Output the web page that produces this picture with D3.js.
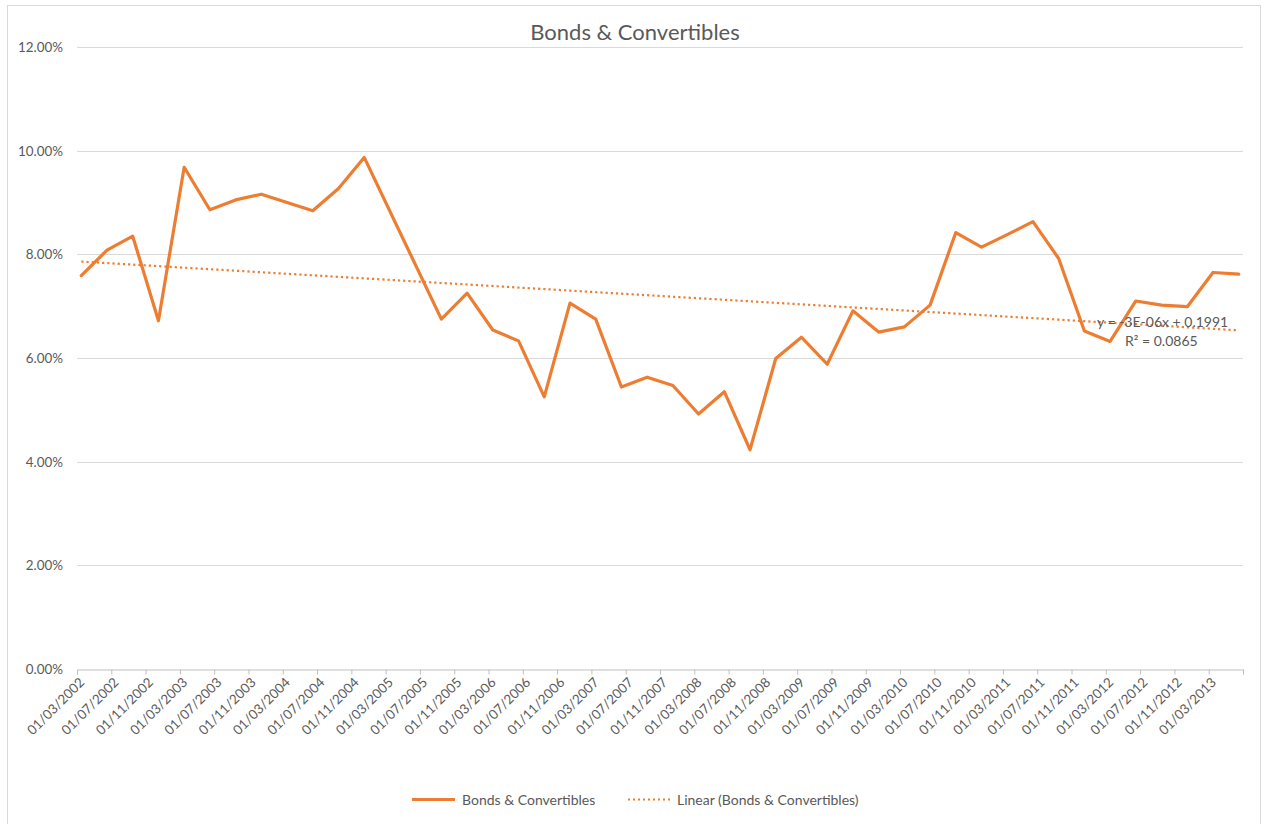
<!DOCTYPE html>
<html lang="en">
<head>
<meta charset="UTF-8">
<title>Bonds & Convertibles</title>
<script src="https://d3js.org/d3.v7.min.js"></script>
<style>
    body { margin: 0; background: #fff; }
    text { font-family: Lato, "Open Sans", sans-serif; fill: #595959; }
</style>
</head>
<body>
<script>
// quarterly observations, starting 01/03/2002 (null = no value, line joins across)
var startYear = 2002, startMonth = 3;
var values = [7.59, 8.08, 8.35, 6.72, 9.68, 8.86, 9.05, 9.16, null, 8.84,
              9.27, 9.87, null, null, 6.75, 7.25, 6.54, 6.33, 5.25, 7.06,
              6.75, 5.44, 5.63, 5.47, 4.92, 5.35, 4.23, 5.99, 6.40, 5.88,
              6.91, 6.50, 6.60, 7.02, 8.42, 8.14, 8.38, 8.63, 7.92, 6.52,
              6.32, 7.10, 7.02, 6.99, 7.65, 7.62];
var yTicks = [0, 2, 4, 6, 8, 10, 12];
var title = "Bonds & Convertibles";
var trendText = ["y = -3E-06x + 0.1991", "R\u00b2 = 0.0865"];

var width = 1262, height = 824;
var orange = "#ED7D31";

var svg = d3.select("body").append("svg")
    .attr("width", width)
    .attr("height", height);

// chart frame
svg.append("rect")
    .attr("x", 7.5).attr("y", 5.5)
    .attr("width", 1253).attr("height", 830)
    .attr("fill", "none")
    .attr("stroke", "#d9d9d9");

// months counted from 01/03/2002, points sit in the middle of their month
var nMonths = 136;
var x = d3.scaleLinear().domain([0, nMonths]).range([77, 1243]);
var y = d3.scaleLinear().domain([0, 12]).range([669, 47]);

var data = values.map(function (v, i) {
    return { m: i * 3, v: v };
}).filter(function (d) { return d.v !== null; });

function monthLabel(m) {
    var total = startMonth - 1 + m;
    var yr = startYear + Math.floor(total / 12);
    var mo = total % 12 + 1;
    return "01/" + (mo < 10 ? "0" + mo : mo) + "/" + yr;
}

// gridlines + y labels
svg.append("g").selectAll("line")
    .data(yTicks.slice(1))
    .enter().append("line")
    .attr("x1", x(0)).attr("x2", x(nMonths))
    .attr("y1", function (d) { return Math.round(y(d)) + 0.5; })
    .attr("y2", function (d) { return Math.round(y(d)) + 0.5; })
    .attr("stroke", "#d9d9d9");

svg.append("g").selectAll("text")
    .data(yTicks)
    .enter().append("text")
    .attr("x", 63)
    .attr("y", function (d) { return y(d) + 5; })
    .attr("text-anchor", "end")
    .style("font-size", "13.4px")
    .text(function (d) { return d.toFixed(2) + "%"; });

// x axis
var tickMonths = d3.range(0, nMonths + 1, 4);
var xAxis = d3.axisBottom(x)
    .tickValues(tickMonths)
    .tickSize(5)
    .tickFormat("");
var gx = svg.append("g")
    .attr("transform", "translate(0," + (Math.round(y(0)) + 0.5) + ")")
    .call(xAxis);
gx.select(".domain").attr("stroke", "#bfbfbf");
gx.selectAll(".tick line").attr("stroke", "#bfbfbf");

svg.append("g").selectAll("text")
    .data(tickMonths.slice(0, -1))
    .enter().append("text")
    .attr("text-anchor", "end")
    .attr("transform", function (d) {
        return "translate(" + (x(d) + 5) + "," + 680 + ") rotate(-45)";
    })
    .attr("dy", "0.35em")
    .style("font-size", "13.4px")
    .text(monthLabel);

// series line
var line = d3.line()
    .x(function (d) { return x(d.m + 0.5); })
    .y(function (d) { return y(d.v); });

svg.append("path")
    .datum(data)
    .attr("d", line)
    .attr("fill", "none")
    .attr("stroke", orange)
    .attr("stroke-width", 3.2)
    .attr("stroke-linejoin", "round")
    .attr("stroke-linecap", "round");

// least squares trend
var mx = d3.mean(data, function (d) { return d.m; });
var my = d3.mean(data, function (d) { return d.v; });
var sxy = d3.sum(data, function (d) { return (d.m - mx) * (d.v - my); });
var sxx = d3.sum(data, function (d) { return (d.m - mx) * (d.m - mx); });
var slope = sxy / sxx, icpt = my - slope * mx;
var ends = [data[0], data[data.length - 1]].map(function (d) {
    return { m: d.m, v: icpt + slope * d.m };
});

svg.append("path")
    .datum(ends)
    .attr("d", line)
    .attr("fill", "none")
    .attr("stroke", orange)
    .attr("stroke-width", 2.2)
    .attr("stroke-dasharray", "2.2,3");

svg.append("g").selectAll("text")
    .data(trendText)
    .enter().append("text")
    .attr("x", function (d, i) { return i === 0 ? 1097 : 1125; })
    .attr("y", function (d, i) { return 327 + i * 18.5; })
    .style("font-size", "14px")
    .text(function (d) { return d; });

// title
svg.append("text")
    .attr("x", 635)
    .attr("y", 40)
    .attr("text-anchor", "middle")
    .style("font-size", "22px")
    .text(title);

// legend
var legend = svg.append("g");
legend.append("line")
    .attr("x1", 412).attr("x2", 455)
    .attr("y1", 799.5).attr("y2", 799.5)
    .attr("stroke", orange).attr("stroke-width", 3);
legend.append("text")
    .attr("x", 462).attr("y", 804.5)
    .style("font-size", "14px")
    .text(title);
legend.append("line")
    .attr("x1", 628).attr("x2", 671)
    .attr("y1", 799.5).attr("y2", 799.5)
    .attr("stroke", orange).attr("stroke-width", 2)
    .attr("stroke-dasharray", "2,3");
legend.append("text")
    .attr("x", 677).attr("y", 804.5)
    .style("font-size", "14px")
    .text("Linear (" + title + ")");
</script>
</body>
</html>
